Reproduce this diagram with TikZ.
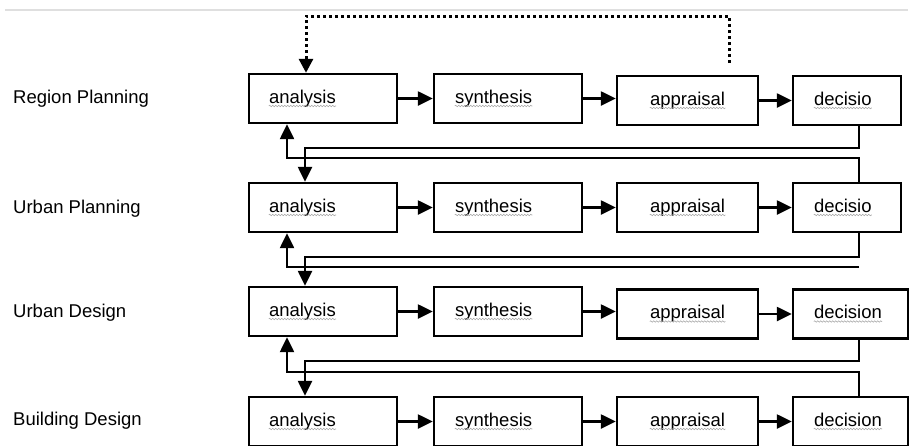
\documentclass[tikz,border=0pt]{standalone}
\usepackage{fontspec}
\setmainfont{Liberation Sans}
\usetikzlibrary{arrows.meta,decorations.pathmorphing}
\begin{document}
\begin{tikzpicture}[x=1pt,y=-1pt,
  stage/.style={draw, line width=2.4pt, rectangle, inner sep=0pt, minimum height=49pt},
  word/.style={anchor=base west, inner sep=0pt, font=\fontsize{18.5}{22}\selectfont},
  lbl/.style={anchor=base west, inner sep=0pt, font=\fontsize{18.5}{22}\selectfont},
  flow/.style={line width=2.4pt, -{Triangle[length=15pt,width=14pt]}},
  squig/.style={decorate, decoration={snake,segment length=3pt,amplitude=0.7pt}, gray!70, line width=0.6pt},
  loopback/.style={line width=3pt, dash pattern=on 3pt off 3pt, -{Triangle[length=14pt,width=14pt]}}
]
\useasboundingbox (0,0) rectangle (909,445);
\clip (0,0) rectangle (909,445);

% thin rule along the top
\draw[gray!25, line width=2pt] (5,10) -- (908,10);

% level labels
\node[lbl] (l1) at (13,103) {Region Planning};
\node[lbl] (l2) at (13,213) {Urban Planning};
\node[lbl] (l3) at (13,317) {Urban Design};
\node[lbl] (l4) at (13,425) {Building Design};

% four stages per level
\foreach \r/\ya/\yp/\dx/\dw/\dt in {1/98.5/100.5/847/108/decisio,
                                     2/207.5/207.5/847/108/decisio,
                                     3/311.5/314/850.5/115/decision,
                                     4/421.5/421.5/850.5/115/decision} {
  \node[stage, minimum width=148pt] (a\r) at (323,\ya) {};
  \node[stage, minimum width=148pt] (s\r) at (508,\ya) {};
  \node[stage, minimum width=141pt] (p\r) at (687.5,\yp) {};
  \node[stage, minimum width=\dw pt] (d\r) at (\dx,\yp) {};
  \node[word] (a\r-t) at ([xshift=21pt,yshift=-4.5pt]a\r.west) {analysis};
  \node[word] (s\r-t) at ([xshift=22pt,yshift=-4.5pt]s\r.west) {synthesis};
  \node[word] (p\r-t) at ([xshift=34pt,yshift=-4.5pt]p\r.west) {appraisal};
  \node[word] (d\r-t) at ([xshift=22pt,yshift=-4.5pt]d\r.west) {\dt};
  \foreach \n in {a,s,p,d}
    \draw[squig] ([yshift=-3pt]\n\r-t.base west) -- ([yshift=-3pt]\n\r-t.base east);
  \draw[flow] (a\r.east) -- (s\r.west);
  \draw[flow] (s\r.east) -- (s\r.east -| p\r.west);
  \draw[flow] (p\r.east) -- (d\r.west);
}

% columns of the links between levels
\coordinate (dn) at (305,0);
\coordinate (up) at (287,0);
\coordinate (h1f) at (859,148);
\coordinate (h1b) at (859,158);
\coordinate (h2f) at (859,257);
\coordinate (h2b) at (859,267);
\coordinate (h3f) at (859,361);
\coordinate (h3b) at (859,372);

% decision passed down to the next level
\draw[flow] (h1f |- d1.south) -- (h1f) -| (a2.north -| dn);
\draw[flow] (h2f |- d2.south) -- (h2f) -| (a3.north -| dn);
\draw[flow] (h3f |- d3.south) -- (h3f) -| (a4.north -| dn);

% feedback up to the level above
\draw[flow] (h1b |- d2.north) -- (h1b) -| (a1.south -| up);
\draw[flow] (h2b) -| (a2.south -| up);
\draw[flow] (h3b |- d4.north) -- (h3b) -| (a3.south -| up);

% dotted return loop
\coordinate (lpend) at (729,63);
\coordinate (lptop) at (729,16);
\coordinate (lpl) at (306,0);
\draw[loopback] (lpend) -- (lptop) -| (a1.north -| lpl);
\end{tikzpicture}
\end{document}
